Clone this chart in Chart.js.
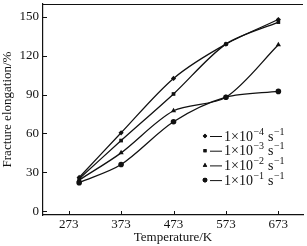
<!DOCTYPE html>
<html>
<head>
<meta charset="utf-8">
<script src="https://cdn.jsdelivr.net/npm/chart.js@4/dist/chart.umd.min.js"></script>
<style>
  html, body { margin: 0; padding: 0; background: #fff; }
  #wrap { width: 307px; height: 246px; }
</style>
</head>
<body>
<div id="wrap"><canvas id="c"></canvas></div>
<script>
// temperatures (K) of the test points
var temps = [293, 373, 473, 573, 673];
// fracture elongation (%) per strain rate
var rate4 = [26, 60.5, 102.5, 129, 148];
var rate3 = [25, 54.5, 90.5, 129, 146];
var rate2 = [24, 45, 77.5, 88, 128.5];
var rate1 = [22, 36, 69, 88, 92.5];
var rateNames = ['-4', '-3', '-2', '-1'];
var xTicks = [273, 373, 473, 573, 673];
var yTicks = [0, 30, 60, 90, 120, 150];

var serif = 'Liberation Serif';

function pts(vals) {
  return vals.map(function (v, i) { return { x: temps[i], y: v }; });
}

function series(vals, style, r) {
  return {
    data: pts(vals),
    borderColor: '#111',
    backgroundColor: '#111',
    borderWidth: 1.3,
    pointStyle: style,
    pointRadius: r,
    pointBorderWidth: 0,
    tension: 0.3,
    fill: false
  };
}

var styles = [['rectRot', 2.6], ['rect', 2.6], ['triangle', 3], ['circle', 2.8]];

// no extra room around the scales, the plot box is fixed
function noPad(s) {
  s.paddingTop = 0; s.paddingBottom = 0; s.paddingLeft = 0; s.paddingRight = 0;
}

// inward tick marks, top frame line, legend inside the plot
var frame = {
  id: 'frame',
  afterDraw: function (chart) {
    var ctx = chart.ctx, a = chart.chartArea;
    var x = chart.scales.x, y = chart.scales.y;
    ctx.save();
    ctx.strokeStyle = '#111';
    ctx.lineWidth = 1;
    ctx.beginPath();
    ctx.moveTo(a.left, a.top + 0.5);
    ctx.lineTo(a.right, a.top + 0.5);
    xTicks.forEach(function (v) {
      var px = Math.round(x.getPixelForValue(v)) + 0.5;
      ctx.moveTo(px, a.bottom);
      ctx.lineTo(px, a.bottom - 4);
    });
    yTicks.forEach(function (v) {
      var py = Math.round(y.getPixelForValue(v)) + 0.5;
      ctx.moveTo(a.left, py);
      ctx.lineTo(a.left + 4, py);
    });
    ctx.stroke();

    // legend
    var lx = 205, ly = 136, gap = 14.7;
    ctx.fillStyle = '#111';
    ctx.textBaseline = 'middle';
    rateNames.forEach(function (nm, i) {
      var cy = ly + i * gap;
      var st = styles[i];
      Chart.helpers.drawPoint(ctx, { pointStyle: st[0], radius: st[1] * 0.85, borderWidth: 0 }, lx, cy);
      ctx.fill();
      ctx.beginPath();
      ctx.moveTo(lx + 5, cy + 0.5);
      ctx.lineTo(lx + 17, cy + 0.5);
      ctx.stroke();
      var tx = lx + 19;
      ctx.font = '14px "' + serif + '"';
      ctx.textAlign = 'left';
      var t1 = '1\u00d710';
      ctx.fillText(t1, tx, cy + 1);
      tx += ctx.measureText(t1).width;
      ctx.font = '10px "' + serif + '"';
      var sup = '\u2212' + nm.slice(1);
      ctx.fillText(sup, tx + 0.5, cy - 4);
      tx += ctx.measureText(sup).width + 4.5;
      ctx.font = '14px "' + serif + '"';
      ctx.fillText('s', tx, cy + 1);
      tx += ctx.measureText('s').width;
      ctx.font = '10px "' + serif + '"';
      ctx.fillText('\u22121', tx + 0.5, cy - 4);
    });
    ctx.restore();
  }
};

new Chart(document.getElementById('c'), {
  type: 'line',
  data: {
    datasets: [
      series(rate4, styles[0][0], styles[0][1]),
      series(rate3, styles[1][0], styles[1][1]),
      series(rate2, styles[2][0], styles[2][1]),
      series(rate1, styles[3][0], styles[3][1])
    ]
  },
  options: {
    responsive: true,
    maintainAspectRatio: false,
    animation: false,
    layout: { padding: { top: 1, right: 0, left: 0, bottom: 0 } },
    plugins: { legend: { display: false }, tooltip: { enabled: false } },
    scales: {
      x: {
        type: 'linear',
        min: 224,
        max: 720,
        afterBuildTicks: function (s) { s.ticks = xTicks.map(function (v) { return { value: v }; }); },
        afterFit: function (s) { s.height = 31; noPad(s); },
        grid: { drawOnChartArea: false, drawTicks: false },
        border: { display: true, color: '#111', width: 1.2 },
        ticks: { color: '#111', padding: 2, maxRotation: 0, font: { family: serif, size: 13 } },
        title: { display: true, text: 'Temperature/K', color: '#111', padding: { top: 0, bottom: 1 }, font: { family: serif, size: 13 } }
      },
      y: {
        min: -3,
        max: 160,
        afterBuildTicks: function (s) { s.ticks = yTicks.map(function (v) { return { value: v }; }); },
        afterFit: function (s) { s.width = 43; noPad(s); },
        grid: { drawOnChartArea: false, drawTicks: false },
        border: { display: true, color: '#111', width: 1.2 },
        ticks: { color: '#111', padding: 4, font: { family: serif, size: 13 } },
        title: { display: true, text: 'Fracture elongation/%', color: '#111', padding: 0, font: { family: serif, size: 13 } }
      }
    }
  },
  plugins: [frame]
});
</script>
</body>
</html>
